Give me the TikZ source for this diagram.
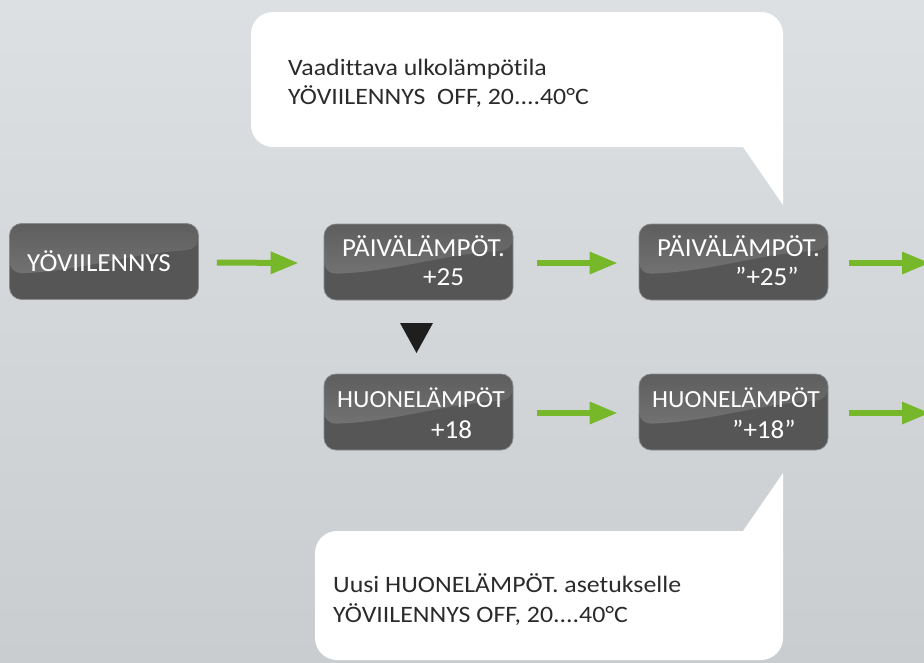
\documentclass[tikz,border=0pt]{standalone}
\usepackage{fontspec}
\setmainfont{Carlito}
\newfontfamily\callfont{Carlito}[FakeStretch=1.1, Ligatures=NoCommon]
\newfontfamily\panelfont{Carlito}[FakeStretch=1.04]
\usetikzlibrary{arrows.meta,calc}
\definecolor{bgtop}{HTML}{DDE0E3}
\definecolor{bgbot}{HTML}{C9CDD0}
\definecolor{boxdark}{HTML}{565656}
\definecolor{glosstop}{HTML}{5E5E5E}
\definecolor{glossbot}{HTML}{7C7C7C}
\definecolor{boxedge}{HTML}{8A8A8A}
\definecolor{arrowgreen}{HTML}{76B82A}
\definecolor{marker}{HTML}{1E1E1E}
\definecolor{calltext}{HTML}{2B2B2B}
\tikzset{
  panel/.style={draw=boxedge, line width=0.7pt, fill=boxdark, rounded corners=12pt,
    minimum width=189pt, minimum height=76pt, inner sep=0pt,
    path picture={
      \shade[top color=glosstop, bottom color=glossbot]
        (path picture bounding box.north west) -- (path picture bounding box.north east)
        -- ([yshift=-26pt]path picture bounding box.north east)
        .. controls ([xshift=-70pt,yshift=-30pt]path picture bounding box.north east)
        and ([xshift=70pt,yshift=-48pt]path picture bounding box.north west)
        .. ([yshift=-50pt]path picture bounding box.north west) -- cycle;
    }},
  paneltext/.style={text=white, inner sep=0pt, anchor=base west, font=\panelfont\fontsize{26}{26}\selectfont},
  paneltextnarrow/.style={paneltext, font=\panelfont\fontsize{24.6}{24.6}\selectfont},
  calloutbody/.style={fill=white, rounded corners=22pt, inner sep=0pt},
  callouttext/.style={text=calltext, inner sep=0pt, anchor=base west, font=\callfont\fontsize{23.5}{23.5}\selectfont},
  flow/.style={draw=arrowgreen, line width=6pt, -{Triangle[length=28pt,width=21pt]}},
}
\begin{document}
\begin{tikzpicture}[x=1pt,y=-1pt]
\useasboundingbox (0,0) rectangle (924,662);
\clip (0,0) rectangle (924,662);
\shade[top color=bgtop, bottom color=bgbot] (0,0) rectangle (924,662);

% callouts
\node[calloutbody, minimum width=532pt, minimum height=135pt] (c1) at (517,79.5) {};
\fill[white] (743,120) -- (783,120) -- (783,205) -- (743,147) -- cycle;
\node[callouttext] (c1a) at (288,75) {Vaadittava ulkolämpötila};
\node[callouttext] (c1b) at (288,104) {YÖVIILENNYS\ \ OFF, 20....40°C};

\node[calloutbody, minimum width=468pt, minimum height=129pt] (c2) at (549,595.5) {};
\fill[white] (743,560) -- (743,531) -- (783,473) -- (783,560) -- cycle;
\node[callouttext] (c2a) at (333,592) {Uusi HUONELÄMPÖT. asetukselle};
\node[callouttext] (c2b) at (333,622) {YÖVIILENNYS OFF, 20....40°C};

% panels
\node[panel] (b1) at (104,261.5) {};
\node[panel] (b2) at (418.5,262) {};
\node[panel] (b3) at (733.5,262) {};
\node[panel] (b4) at (418.5,412) {};
\node[panel] (b5) at (733.5,412) {};

\node[paneltext] (t1) at (27,271) {YÖVIILENNYS};
\node[paneltext] (t2a) at (342,256) {PÄIVÄLÄMPÖT.};
\node[paneltext] (t2b) at (423,285) {+25};
\node[paneltext] (t3a) at (657,256) {PÄIVÄLÄMPÖT.};
\node[paneltext] (t3b) at (735,285) {”+25”};
\node[paneltextnarrow] (t4a) at (337,407) {HUONELÄMPÖT};
\node[paneltext] (t4b) at (431,438) {+18};
\node[paneltextnarrow] (t5a) at (652,407) {HUONELÄMPÖT};
\node[paneltext] (t5b) at (732,438) {”+18”};

% down marker
\fill[marker] (400,323) -- (433,323) -- (416.5,353) -- cycle;

% arrows
\coordinate (e1) at (930,263);
\coordinate (e2) at (930,413);
\draw[flow] ([xshift=18pt,yshift=-1pt]b1.east) -- ([xshift=-25pt,yshift=-1pt]b2.west);
\draw[flow] ([xshift=24pt,yshift=-1pt]b2.east) -- ([xshift=-21pt,yshift=-1pt]b3.west);
\draw[flow] ([xshift=21pt,yshift=-1pt]b3.east) -- (e1);
\draw[flow] ([xshift=24pt,yshift=-1pt]b4.east) -- ([xshift=-21pt,yshift=-1pt]b5.west);
\draw[flow] ([xshift=21pt,yshift=-1pt]b5.east) -- (e2);
\end{tikzpicture}
\end{document}
